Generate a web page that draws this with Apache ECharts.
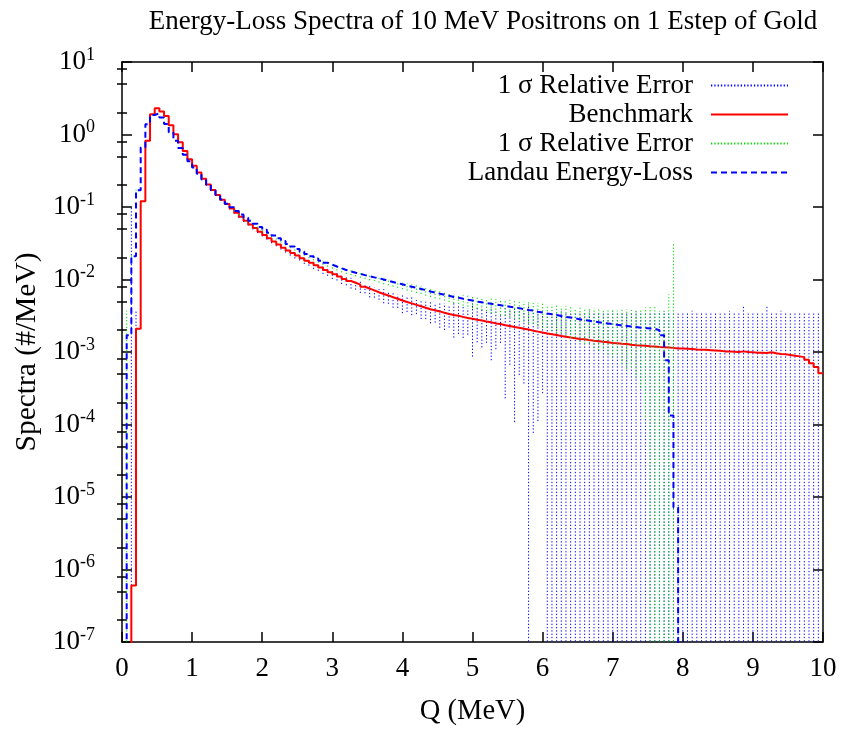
<!DOCTYPE html>
<html>
<head>
<meta charset="utf-8">
<script src="https://cdn.jsdelivr.net/npm/echarts@6/dist/echarts.min.js"></script>
<style>
html, body { margin: 0; padding: 0; background: #ffffff; }
#chart { width: 843px; height: 731px; }
</style>
</head>
<body>
<div id="chart"></div>
<script>
// Histogram binning: 150 bins over 0..10 MeV
const qMax = 10;
const nBins = 150;

// Benchmark spectrum (#/MeV), one value per bin
const benchmark = [
  0, 0, 6.0e-7, 2.1e-3, 0.12, 0.82, 1.9, 2.3, 2.07, 1.8,
  1.34, 1.01, 0.78, 0.59, 0.455, 0.37, 0.30, 0.245, 0.204, 0.172,
  0.146, 0.126, 0.110, 0.0955, 0.0832, 0.0733, 0.0646, 0.0575, 0.0513, 0.0457,
  0.0412, 0.0372, 0.0335, 0.0305, 0.0275, 0.0251, 0.0232, 0.0214, 0.0197, 0.0182,
  0.0170, 0.0157, 0.0146, 0.0135, 0.0126, 0.0118, 0.0110, 0.0102, 0.00955, 0.00902,
  0.00851, 0.00794, 0.0075, 0.00708, 0.00668, 0.00631, 0.00603, 0.00569, 0.00543, 0.00513,
  0.0049, 0.00468, 0.00447, 0.00427, 0.00407, 0.00389, 0.00376, 0.00363, 0.00347, 0.00335,
  0.00324, 0.00316, 0.00305, 0.00295, 0.00288, 0.00279, 0.00272, 0.00263, 0.00257, 0.00248,
  0.00243, 0.00234, 0.00229, 0.00221, 0.00216, 0.00209, 0.00204, 0.00197, 0.00191, 0.00186,
  0.0018, 0.00176, 0.00172, 0.00166, 0.00162, 0.00158, 0.00155, 0.00151, 0.0015, 0.00146,
  0.00143, 0.00141, 0.00138, 0.00136, 0.00133, 0.00132, 0.0013, 0.00129, 0.00126, 0.00124,
  0.00123, 0.00122, 0.0012, 0.00119, 0.00117, 0.00116, 0.00115, 0.00114, 0.00112, 0.00112,
  0.00111, 0.0011, 0.00108, 0.00107, 0.00107, 0.00106, 0.00105, 0.00104, 0.00102, 0.00102,
  0.00101, 0.00100, 0.00102, 0.00100, 0.00099, 0.00098, 0.00098, 0.00097, 0.00099, 0.00096,
  0.00094, 0.00093, 0.00091, 0.00089, 0.00087, 0.00085, 0.00078, 0.0007, 0.00062, 0.00051
];

// Relative 1-sigma errors of the benchmark
const benchmarkRelErr = [
  null, null, 166000, 0.75, 0.02, 0.012, 0.01, 0.01, 0.01, 0.01,
  0.011, 0.012, 0.013, 0.014, 0.015, 0.016, 0.018, 0.019, 0.02, 0.022,
  0.024, 0.026, 0.028, 0.03, 0.032, 0.035, 0.037, 0.04, 0.043, 0.045,
  0.048, 0.05, 0.055, 0.058, 0.06, 0.065, 0.08, 0.09, 0.07, 0.1,
  0.09, 0.11, 0.1, 0.12, 0.11, 0.14, 0.12, 0.15, 0.13, 0.17,
  0.15, 0.18, 0.14, 0.2, 0.16, 0.17, 0.22, 0.19, 0.25, 0.21,
  0.3, 0.24, 0.28, 0.22, 0.3, 0.27, 0.34, 0.3, 0.38, 0.4,
  0.33, 0.5, 0.42, 0.47, 0.4, 0.69, 0.5, 0.56, 0.48, 0.69,
  0.55, 0.43, 0.9, 0.7, 0.95, 0.77, 0.82, 1.3, 0.96, 0.94,
  0.85, 1.05, 1.03, 1.17, 1.28, 1.22, 1.32, 1.38, 1.33, 1.47,
  1.59, 1.55, 1.54, 1.65, 1.71, 1.8, 1.77, 1.71, 1.86, 1.9,
  2.0, 1.95, 2.0, 1.94, 2.08, 2.1, 2.2, 2.16, 2.2, 2.12,
  2.24, 2.27, 2.43, 2.36, 2.36, 2.4, 2.33, 2.46, 2.53, 2.53,
  2.66, 2.6, 2.53, 3.2, 2.64, 2.57, 2.67, 2.71, 3.24, 2.75,
  2.83, 2.98, 2.96, 3.04, 3.14, 3.24, 3.6, 4.14, 4.8, 6.06
];

// Landau energy-loss spectrum (#/MeV), one value per bin
const landau = [
  0, 1.7e-3, 0.021, 0.17, 0.66, 1.39, 1.86, 1.95, 1.72, 1.4,
  1.07, 0.82, 0.653, 0.525, 0.427, 0.351, 0.288, 0.24, 0.202, 0.17,
  0.146, 0.127, 0.111, 0.0989, 0.0881, 0.0785, 0.0708, 0.0646, 0.0589, 0.0531,
  0.0484, 0.0442, 0.0403, 0.0372, 0.0339, 0.0309, 0.0285, 0.0263, 0.0243, 0.0224,
  0.0209, 0.0195, 0.0182, 0.017, 0.016, 0.0151, 0.0143, 0.0135, 0.0129, 0.0124,
  0.012, 0.0115, 0.0111, 0.0107, 0.0104, 0.0100, 0.00955, 0.00923, 0.00891, 0.00861,
  0.00822, 0.00794, 0.00767, 0.00741, 0.00716, 0.00684, 0.00661, 0.00638, 0.00617, 0.00596,
  0.00575, 0.00562, 0.00543, 0.00525, 0.00513, 0.00495, 0.00484, 0.00473, 0.00462, 0.00452,
  0.00442, 0.00432, 0.00422, 0.00412, 0.00403, 0.00389, 0.0038, 0.00372, 0.00359, 0.00351,
  0.00339, 0.00331, 0.00324, 0.00313, 0.00305, 0.00299, 0.00292, 0.00282, 0.00275, 0.00269,
  0.00263, 0.00257, 0.00251, 0.00248, 0.00243, 0.00237, 0.00232, 0.00229, 0.00224, 0.00221,
  0.00216, 0.00214, 0.00211, 0.00209, 0.0020, 0.0017, 7.7e-4, 1.33e-4, 7.2e-6, 0,
  0, 0, 0, 0, 0, 0, 0, 0, 0, 0,
  0, 0, 0, 0, 0, 0, 0, 0, 0, 0,
  0, 0, 0, 0, 0, 0, 0, 0, 0, 0
];

// Relative 1-sigma errors of the Landau spectrum
const landauRelErr = [
  null, 1.18, 0.02, 0.015, 0.012, 0.01, 0.01, 0.01, 0.01, 0.01,
  0.01, 0.01, 0.01, 0.01, 0.01, 0.012, 0.012, 0.013, 0.014, 0.015,
  0.016, 0.02, 0.022, 0.025, 0.024, 0.028, 0.03, 0.032, 0.035, 0.033,
  0.038, 0.04, 0.042, 0.045, 0.043, 0.048, 0.05, 0.052, 0.055, 0.053,
  0.058, 0.06, 0.062, 0.065, 0.063, 0.068, 0.07, 0.072, 0.075, 0.073,
  0.078, 0.08, 0.085, 0.09, 0.088, 0.095, 0.1, 0.098, 0.105, 0.11,
  0.108, 0.115, 0.12, 0.125, 0.118, 0.13, 0.135, 0.14, 0.132, 0.145,
  0.15, 0.16, 0.155, 0.17, 0.18, 0.19, 0.185, 0.2, 0.21, 0.24,
  0.22, 0.26, 0.25, 0.27, 0.29, 0.28, 0.31, 0.33, 0.32, 0.36,
  0.37, 0.35, 0.4, 0.42, 0.4, 0.45, 0.47, 0.44, 0.5, 0.52,
  0.5, 0.56, 0.58, 0.55, 0.62, 0.65, 0.6, 0.7, 0.74, 0.72,
  0.8, 0.85, 0.94, 1.05, 1.1, 1.18, 3.8, 46, 4400, null,
  null, null, null, null, null, null, null, null, null, null,
  null, null, null, null, null, null, null, null, null, null,
  null, null, null, null, null, null, null, null, null, null
];

// Axis decades (powers of ten) and minor-tick multipliers within each decade
const yDecades = [-7, -6, -5, -4, -3, -2, -1, 0, 1];
const minorMultipliers = [2, 5, 8];

const legendLabels = {
  errBench: '1 \u03c3 Relative Error',
  Benchmark: 'Benchmark',
  errLandau: '1 \u03c3 Relative Error',
  'Landau Energy-Loss': 'Landau Energy-Loss'
};

const FONT = "'Liberation Serif', 'Times New Roman', 'DejaVu Serif', serif";
const FS = 27;
// empty bins are sent below the visible range so the step line drops off the plot
const FLOOR = 1e-12;

const edge = k => k * qMax / nBins;

function stepData(vals) {
  const pts = vals.map((v, k) => [edge(k), v > 0 ? v : FLOOR]);
  pts.push([qMax, pts[pts.length - 1][1]]);
  return pts;
}

function errorBarData(vals, rel) {
  const pts = [];
  vals.forEach((v, k) => {
    const r = rel[k];
    if (r == null || !(v > 0)) return;
    const lo = v * (1 - r);
    pts.push([edge(k), lo > 0 ? lo : FLOOR], [edge(k), v * (1 + r)], [edge(k), '-']);
  });
  return pts;
}

const majorVals = yDecades.map(e => Number('1e' + e));
const minorVals = [];
yDecades.slice(0, -1).forEach(e => minorMultipliers.forEach(m => minorVals.push(Number(m + 'e' + e))));

const black = '#000000';
const axisLineStyle = { color: black, width: 1.5 };
const yBase = {
  type: 'log', logBase: 10, min: 1e-7, max: 10,
  splitLine: { show: false }, minorTick: { show: false }, minorSplitLine: { show: false }
};

const chart = echarts.init(document.getElementById('chart'), null, { renderer: 'canvas' });
chart.setOption({
  animation: false,
  backgroundColor: '#ffffff',
  title: {
    text: 'Energy-Loss Spectra of 10 MeV Positrons on 1 Estep of Gold',
    left: 478, top: 3, textAlign: 'center',
    textStyle: { fontFamily: FONT, fontSize: FS, fontWeight: 'normal', color: black }
  },
  grid: { left: 122, right: 20, top: 62, bottom: 89, containLabel: false },
  legend: {
    data: ['errBench', 'Benchmark', 'errLandau', 'Landau Energy-Loss'],
    formatter: n => legendLabels[n] || n,
    orient: 'vertical', align: 'right',
    right: 49, top: 67,
    itemWidth: 77, itemHeight: 14, itemGap: 2,
    selectedMode: false,
    itemStyle: { opacity: 0 },
    textStyle: { fontFamily: FONT, fontSize: FS, color: black, lineHeight: 24, padding: [0, 13, 0, 0] }
  },
  xAxis: [
    {
      type: 'value', min: 0, max: qMax, interval: 1, position: 'bottom',
      axisLine: { show: true, onZero: false, lineStyle: axisLineStyle },
      axisTick: { show: true, inside: true, length: 10, lineStyle: axisLineStyle },
      axisLabel: { fontFamily: FONT, fontSize: FS, color: black, margin: 13 },
      splitLine: { show: false },
      name: 'Q (MeV)', nameLocation: 'middle', nameGap: 55,
      nameTextStyle: { fontFamily: FONT, fontSize: 28.5, color: black }
    },
    {
      type: 'value', min: 0, max: qMax, interval: 1, position: 'top',
      axisLine: { show: true, onZero: false, lineStyle: axisLineStyle },
      axisTick: { show: true, inside: true, length: 10, lineStyle: axisLineStyle },
      axisLabel: { show: false },
      splitLine: { show: false }
    }
  ],
  yAxis: [
    Object.assign({}, yBase, {
      position: 'left',
      axisLine: { show: true, onZero: false, lineStyle: axisLineStyle },
      axisTick: { show: true, inside: true, length: 10, customValues: majorVals, lineStyle: axisLineStyle },
      axisLabel: {
        customValues: majorVals, margin: 27,
        formatter: v => '{b|10}{e|' + Math.round(Math.log10(v)) + '}',
        rich: {
          b: { fontFamily: FONT, fontSize: FS, color: black, lineHeight: 32 },
          e: { fontFamily: FONT, fontSize: 18, color: black, lineHeight: 18, verticalAlign: 'top' }
        }
      },
      name: 'Spectra (#/MeV)', nameLocation: 'middle', nameGap: 80,
      nameTextStyle: { fontFamily: FONT, fontSize: 29.5, color: black }
    }),
    Object.assign({}, yBase, {
      position: 'left',
      axisLine: { show: false },
      axisTick: { show: true, inside: true, length: 5, customValues: minorVals, lineStyle: axisLineStyle },
      axisLabel: { show: false }
    }),
    Object.assign({}, yBase, {
      position: 'right',
      axisLine: { show: true, onZero: false, lineStyle: axisLineStyle },
      axisTick: { show: true, inside: true, length: 10, customValues: majorVals, lineStyle: axisLineStyle },
      axisLabel: { show: false }
    }),
    Object.assign({}, yBase, {
      position: 'right',
      axisLine: { show: false },
      axisTick: { show: true, inside: true, length: 5, customValues: minorVals, lineStyle: axisLineStyle },
      axisLabel: { show: false }
    })
  ],
  series: [
    {
      name: 'errBench', type: 'line', xAxisIndex: 0, yAxisIndex: 0,
      data: errorBarData(benchmark, benchmarkRelErr),
      symbol: 'none', connectNulls: false, clip: true, silent: true, z: 2,
      itemStyle: { color: '#0000ff' },
      lineStyle: { color: '#0000ff', width: 1, type: [1.3, 2] }
    },
    {
      name: 'Benchmark', type: 'line', step: 'end', xAxisIndex: 0, yAxisIndex: 0,
      data: stepData(benchmark),
      symbol: 'none', clip: true, silent: true, z: 3,
      itemStyle: { color: '#ff0000' },
      lineStyle: { color: '#ff0000', width: 2 }
    },
    {
      name: 'errLandau', type: 'line', xAxisIndex: 0, yAxisIndex: 0,
      data: errorBarData(landau, landauRelErr),
      symbol: 'none', connectNulls: false, clip: true, silent: true, z: 4,
      itemStyle: { color: '#00dd00' },
      lineStyle: { color: '#00dd00', width: 1, type: [1.3, 2] }
    },
    {
      name: 'Landau Energy-Loss', type: 'line', step: 'end', xAxisIndex: 0, yAxisIndex: 0,
      data: stepData(landau),
      symbol: 'none', clip: true, silent: true, z: 5,
      itemStyle: { color: '#0000ff' },
      lineStyle: { color: '#0000ff', width: 2, type: [6, 4] }
    }
  ]
});
</script>
</body>
</html>
